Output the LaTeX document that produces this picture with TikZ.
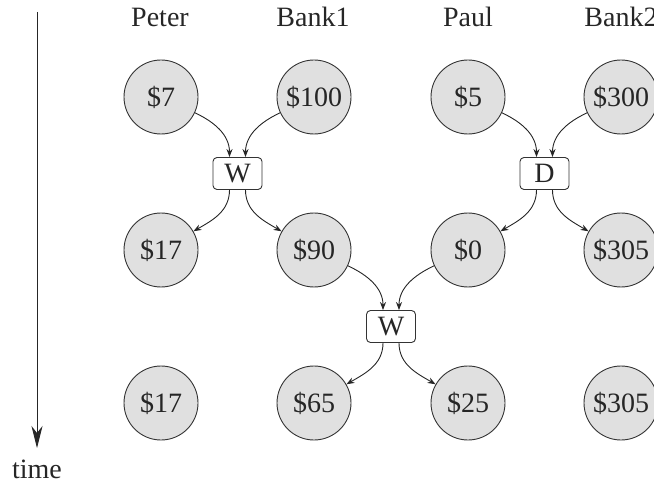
\documentclass[tikz,border=0pt]{standalone}
\usepackage{fontspec}
\setmainfont{Liberation Serif}
\usetikzlibrary{arrows.meta}
\begin{document}
\begin{tikzpicture}[x=1pt,y=1pt,
  every node/.style={font=\fontsize{28}{33}\selectfont, text=black!85},
  acct/.style={circle, draw=black!80, line width=0.9pt, fill=black!12, minimum size=74pt, inner sep=0pt},
  op/.style={rectangle, rounded corners=4pt, draw=black!80, line width=0.9pt, fill=white, minimum width=49pt, minimum height=32pt, inner sep=0pt},
  head/.style={anchor=base},
  flow/.style={draw=black!85, line width=0.9pt, -{Stealth[length=8pt,width=6pt]}}]
\useasboundingbox (0,0) rectangle (654,-484);
% time axis
\coordinate (t0) at (37,-12);
\node (tl) at (37,-469) {time};
\draw[line width=0.9pt, draw=black!85, -{Stealth[length=22pt,width=11pt,inset=7pt]}] (t0) -- (37,-448);
% headers
\node[head] (h1) at (160,-27) {Peter};
\node[head] (h2) at (313,-27) {Bank1};
\node[head] (h3) at (468,-27) {Paul};
\node[head] (h4) at (621,-27) {Bank2};
% accounts
\node[acct] (a1) at (161,-97) {\$7};
\node[acct] (b1) at (314,-97) {\$100};
\node[acct] (c1) at (468,-97) {\$5};
\node[acct] (d1) at (621,-97) {\$300};
\node[acct] (a2) at (161,-250) {\$17};
\node[acct] (b2) at (314,-250) {\$90};
\node[acct] (c2) at (468,-250) {\$0};
\node[acct] (d2) at (621,-250) {\$305};
\node[acct] (a3) at (161,-403) {\$17};
\node[acct] (b3) at (314,-403) {\$65};
\node[acct] (c3) at (468,-403) {\$25};
\node[acct] (d3) at (621,-403) {\$305};
% operations
\node[op] (w1) at (237.5,-173.5) {W};
\node[op] (dd) at (544.5,-173.5) {D};
\node[op] (w2) at (391,-326.5) {W};
% flows
\draw[flow] (a1.-25) to[out=-25,in=90] ([xshift=-8pt]w1.north);
\draw[flow] (b1.205) to[out=205,in=90] ([xshift=8pt]w1.north);
\draw[flow] ([xshift=-8pt]w1.south) to[out=-90,in=30] (a2.30);
\draw[flow] ([xshift=8pt]w1.south) to[out=-90,in=150] (b2.150);
\draw[flow] (c1.-25) to[out=-25,in=90] ([xshift=-8pt]dd.north);
\draw[flow] (d1.205) to[out=205,in=90] ([xshift=8pt]dd.north);
\draw[flow] ([xshift=-8pt]dd.south) to[out=-90,in=30] (c2.30);
\draw[flow] ([xshift=8pt]dd.south) to[out=-90,in=150] (d2.150);
\draw[flow] (b2.-25) to[out=-25,in=90] ([xshift=-8pt]w2.north);
\draw[flow] (c2.205) to[out=205,in=90] ([xshift=8pt]w2.north);
\draw[flow] ([xshift=-8pt]w2.south) to[out=-90,in=30] (b3.30);
\draw[flow] ([xshift=8pt]w2.south) to[out=-90,in=150] (c3.150);
\end{tikzpicture}
\end{document}
